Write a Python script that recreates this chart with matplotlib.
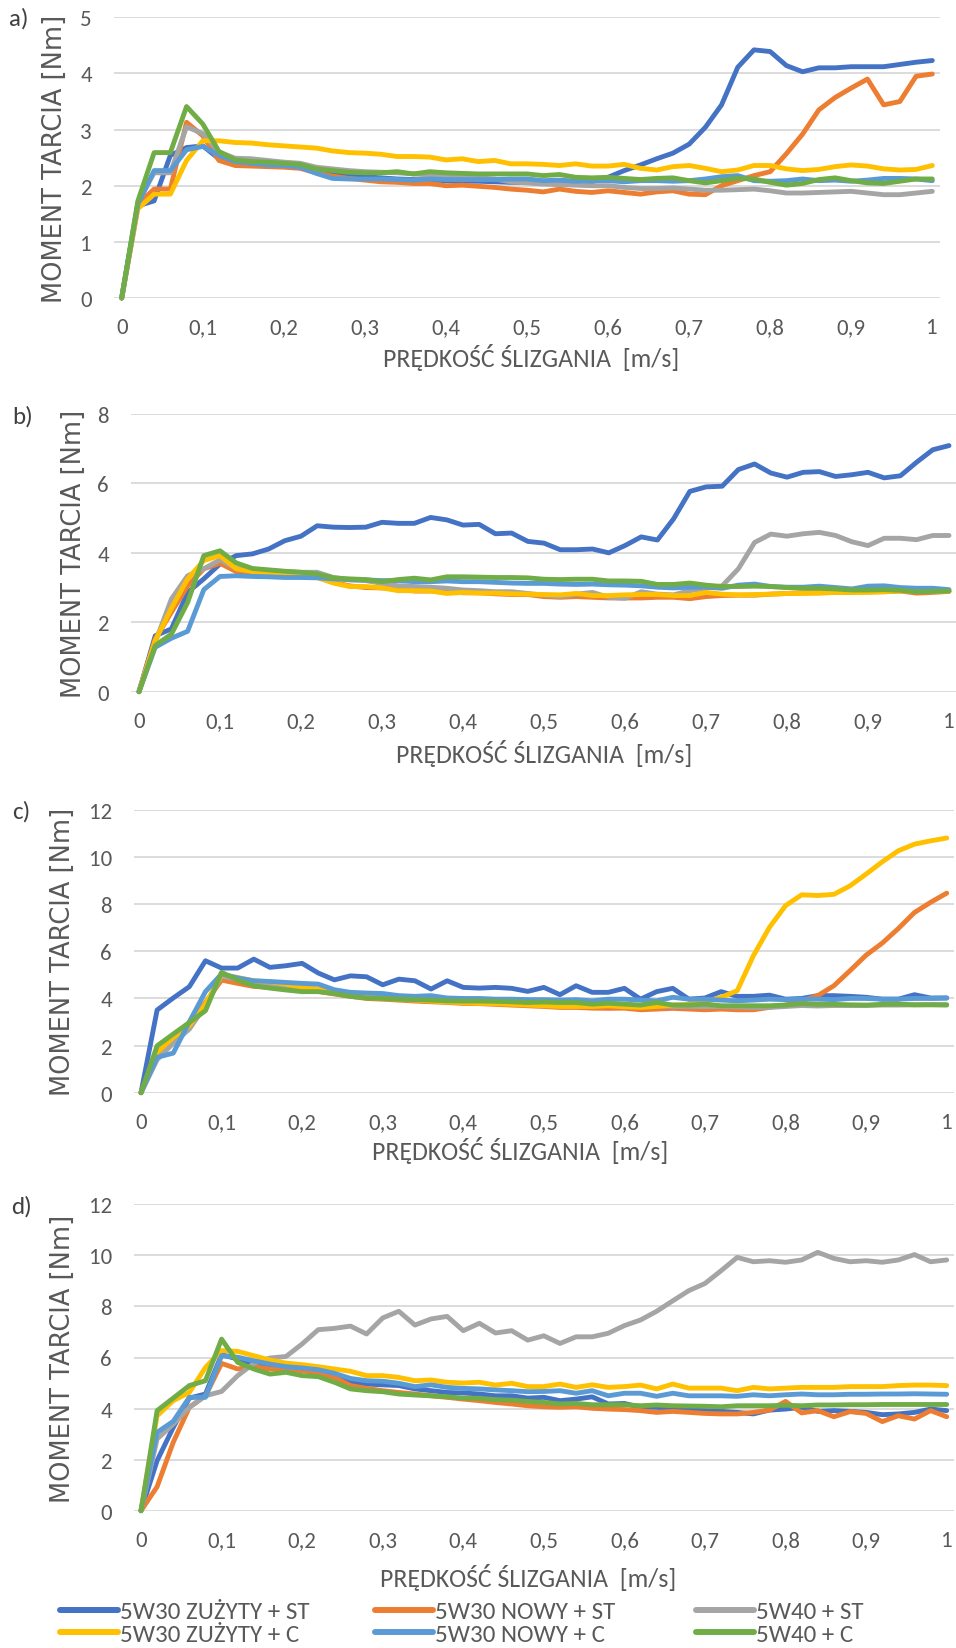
import matplotlib
matplotlib.use("Agg")
import matplotlib.pyplot as plt
from matplotlib.lines import Line2D

# sliding speed [m/s]
speed = [0.00, 0.02, 0.04, 0.06, 0.08, 0.10, 0.12, 0.14, 0.16, 0.18,
         0.20, 0.22, 0.24, 0.26, 0.28, 0.30, 0.32, 0.34, 0.36, 0.38,
         0.40, 0.42, 0.44, 0.46, 0.48, 0.50, 0.52, 0.54, 0.56, 0.58,
         0.60, 0.62, 0.64, 0.66, 0.68, 0.70, 0.72, 0.74, 0.76, 0.78,
         0.80, 0.82, 0.84, 0.86, 0.88, 0.90, 0.92, 0.94, 0.96, 0.98, 1.00]

series_labels = ["5W30 ZUŻYTY + ST", "5W30 NOWY + ST", "5W40 + ST",
                 "5W30 ZUŻYTY + C", "5W30 NOWY + C", "5W40 + C"]
series_colors = ["#4472C4", "#ED7D31", "#A5A5A5", "#FFC000", "#5B9BD5", "#70AD47"]

# ---- panel a) friction torque [Nm]
a_zuzyty_st = [0, 1.64, 1.73, 2.54, 2.68, 2.71, 2.48, 2.42, 2.40, 2.38, 2.37, 2.35, 2.28, 2.22, 2.18, 2.16, 2.14, 2.12, 2.11, 2.10, 2.09, 2.08, 2.08, 2.07, 2.06,
               2.06, 2.04, 2.04, 2.04, 2.07, 2.15, 2.27, 2.37, 2.48, 2.58, 2.74, 3.04, 3.44, 4.11, 4.42, 4.39, 4.14, 4.03, 4.10, 4.10, 4.12, 4.12, 4.12, 4.16, 4.20, 4.23]
a_nowy_st = [0, 1.67, 1.94, 1.94, 3.13, 2.89, 2.45, 2.36, 2.35, 2.34, 2.33, 2.31, 2.23, 2.17, 2.13, 2.10, 2.07, 2.06, 2.04, 2.04, 2.00, 2.01, 1.99, 1.97, 1.94,
             1.92, 1.89, 1.94, 1.90, 1.88, 1.91, 1.88, 1.85, 1.89, 1.91, 1.85, 1.84, 2.00, 2.09, 2.18, 2.25, 2.57, 2.92, 3.35, 3.57, 3.74, 3.90, 3.44, 3.50, 3.95, 3.99]
a_5w40_st = [0, 1.70, 2.23, 2.23, 3.05, 2.93, 2.60, 2.49, 2.48, 2.45, 2.42, 2.40, 2.33, 2.30, 2.27, 2.25, 2.24, 2.23, 2.21, 2.19, 2.18, 2.16, 2.14, 2.12, 2.07,
             2.05, 2.03, 2.02, 2.01, 2.00, 2.00, 1.97, 1.95, 1.95, 1.96, 1.94, 1.92, 1.92, 1.93, 1.94, 1.91, 1.87, 1.87, 1.88, 1.89, 1.90, 1.87, 1.84, 1.84, 1.87, 1.90]
a_zuzyty_c = [0, 1.59, 1.85, 1.85, 2.45, 2.80, 2.80, 2.77, 2.76, 2.73, 2.71, 2.69, 2.67, 2.62, 2.59, 2.58, 2.56, 2.52, 2.52, 2.51, 2.46, 2.48, 2.43, 2.45, 2.39,
              2.39, 2.38, 2.36, 2.39, 2.35, 2.35, 2.38, 2.31, 2.28, 2.34, 2.36, 2.31, 2.25, 2.28, 2.36, 2.36, 2.30, 2.27, 2.29, 2.34, 2.37, 2.35, 2.30, 2.28, 2.29, 2.36]
a_nowy_c = [0, 1.67, 2.27, 2.27, 2.64, 2.70, 2.54, 2.43, 2.40, 2.37, 2.36, 2.33, 2.22, 2.13, 2.12, 2.12, 2.12, 2.11, 2.10, 2.12, 2.11, 2.11, 2.11, 2.11, 2.12,
            2.12, 2.09, 2.10, 2.08, 2.09, 2.09, 2.07, 2.09, 2.09, 2.08, 2.09, 2.12, 2.16, 2.18, 2.09, 2.08, 2.09, 2.12, 2.09, 2.10, 2.08, 2.10, 2.13, 2.13, 2.12, 2.09]
a_5w40_c = [0, 1.73, 2.59, 2.59, 3.41, 3.10, 2.61, 2.46, 2.43, 2.42, 2.40, 2.38, 2.30, 2.27, 2.24, 2.23, 2.23, 2.25, 2.21, 2.25, 2.23, 2.22, 2.21, 2.21, 2.21,
            2.21, 2.18, 2.20, 2.15, 2.14, 2.15, 2.13, 2.11, 2.13, 2.14, 2.09, 2.05, 2.09, 2.13, 2.12, 2.06, 2.01, 2.04, 2.11, 2.14, 2.09, 2.05, 2.04, 2.08, 2.12, 2.12]

# ---- panel b)
b_zuzyty_st = [0, 1.61, 1.81, 2.86, 3.25, 3.68, 3.92, 3.97, 4.11, 4.35, 4.48, 4.78, 4.74, 4.73, 4.74, 4.88, 4.85, 4.85, 5.02, 4.95, 4.80, 4.82, 4.55, 4.57, 4.33,
               4.28, 4.09, 4.09, 4.11, 4.00, 4.21, 4.46, 4.37, 4.98, 5.77, 5.90, 5.92, 6.40, 6.56, 6.30, 6.18, 6.32, 6.34, 6.20, 6.25, 6.32, 6.16, 6.22, 6.61, 6.97, 7.09]
b_nowy_st = [0, 1.52, 2.29, 3.05, 3.54, 3.70, 3.46, 3.44, 3.40, 3.37, 3.35, 3.30, 3.15, 3.05, 3.00, 2.99, 2.96, 2.90, 2.90, 2.90, 2.85, 2.85, 2.82, 2.80, 2.80,
             2.74, 2.72, 2.74, 2.72, 2.70, 2.70, 2.70, 2.72, 2.72, 2.68, 2.74, 2.77, 2.78, 2.78, 2.81, 2.83, 2.85, 2.85, 2.86, 2.86, 2.88, 2.88, 2.90, 2.84, 2.86, 2.89]
b_5w40_st = [0, 1.42, 2.67, 3.34, 3.54, 3.80, 3.55, 3.52, 3.49, 3.46, 3.44, 3.44, 3.29, 3.22, 3.20, 3.12, 3.05, 3.03, 3.01, 2.98, 2.93, 2.91, 2.88, 2.88, 2.83,
             2.78, 2.74, 2.81, 2.86, 2.72, 2.69, 2.88, 2.81, 2.79, 2.91, 2.98, 3.05, 3.54, 4.30, 4.54, 4.48, 4.55, 4.59, 4.50, 4.32, 4.21, 4.42, 4.42, 4.38, 4.50, 4.50]
b_zuzyty_c = [0, 1.47, 2.40, 3.25, 3.78, 3.92, 3.54, 3.46, 3.42, 3.39, 3.36, 3.29, 3.13, 3.03, 3.03, 2.99, 2.91, 2.91, 2.90, 2.83, 2.86, 2.84, 2.84, 2.82, 2.81,
              2.80, 2.79, 2.83, 2.77, 2.77, 2.79, 2.80, 2.80, 2.77, 2.77, 2.86, 2.81, 2.79, 2.80, 2.81, 2.83, 2.83, 2.84, 2.86, 2.86, 2.86, 2.88, 2.90, 2.90, 2.89, 2.90]
b_nowy_c = [0, 1.28, 1.54, 1.74, 2.94, 3.32, 3.34, 3.32, 3.31, 3.29, 3.29, 3.28, 3.25, 3.23, 3.22, 3.20, 3.20, 3.17, 3.17, 3.19, 3.17, 3.17, 3.15, 3.13, 3.12,
            3.12, 3.10, 3.09, 3.10, 3.08, 3.07, 3.05, 3.01, 2.99, 3.01, 3.01, 2.98, 3.07, 3.10, 3.03, 3.01, 3.01, 3.04, 3.00, 2.96, 3.04, 3.05, 3.00, 2.98, 2.98, 2.94]
b_5w40_c = [0, 1.33, 1.66, 2.57, 3.92, 4.06, 3.71, 3.55, 3.51, 3.47, 3.44, 3.39, 3.28, 3.25, 3.23, 3.17, 3.23, 3.27, 3.22, 3.31, 3.31, 3.30, 3.29, 3.29, 3.28,
            3.24, 3.23, 3.24, 3.24, 3.19, 3.19, 3.18, 3.09, 3.09, 3.13, 3.07, 3.03, 3.03, 3.04, 3.03, 3.00, 2.98, 2.98, 2.96, 2.93, 2.93, 2.94, 2.92, 2.88, 2.89, 2.90]

# ---- panel c)
c_zuzyty_st = [0, 3.51, 4.02, 4.50, 5.60, 5.29, 5.29, 5.67, 5.32, 5.39, 5.49, 5.08, 4.79, 4.96, 4.92, 4.58, 4.82, 4.75, 4.40, 4.75, 4.47, 4.44, 4.47, 4.43, 4.30,
               4.47, 4.16, 4.54, 4.26, 4.26, 4.43, 3.97, 4.29, 4.43, 3.97, 4.02, 4.29, 4.09, 4.09, 4.14, 3.97, 4.00, 4.12, 4.12, 4.09, 4.05, 3.97, 3.97, 4.16, 4.02, 4.02]
c_nowy_st = [0, 1.57, 2.28, 2.84, 3.83, 4.78, 4.64, 4.51, 4.47, 4.40, 4.33, 4.30, 4.19, 4.09, 4.00, 3.97, 3.93, 3.89, 3.86, 3.83, 3.79, 3.78, 3.75, 3.72, 3.69,
             3.66, 3.62, 3.62, 3.59, 3.58, 3.59, 3.52, 3.55, 3.58, 3.55, 3.52, 3.55, 3.52, 3.52, 3.62, 3.72, 3.90, 4.12, 4.54, 5.18, 5.84, 6.35, 6.97, 7.65, 8.08, 8.47]
c_5w40_st = [0, 1.40, 2.10, 2.70, 3.70, 4.95, 4.80, 4.70, 4.65, 4.55, 4.45, 4.40, 4.30, 4.20, 4.15, 4.10, 4.00, 3.97, 3.93, 3.90, 3.87, 3.85, 3.82, 3.80, 3.77,
             3.75, 3.72, 3.72, 3.70, 3.70, 3.68, 3.66, 3.68, 3.66, 3.66, 3.65, 3.66, 3.64, 3.62, 3.62, 3.66, 3.70, 3.68, 3.70, 3.70, 3.70, 3.72, 3.72, 3.73, 3.74, 3.74]
c_zuzyty_c = [0, 1.71, 2.35, 2.84, 3.76, 5.01, 4.89, 4.75, 4.71, 4.61, 4.47, 4.40, 4.26, 4.12, 4.05, 4.00, 3.97, 3.93, 3.89, 3.85, 3.82, 3.79, 3.78, 3.75, 3.72,
              3.69, 3.66, 3.66, 3.66, 3.69, 3.65, 3.62, 3.66, 3.72, 3.75, 3.86, 4.05, 4.33, 5.81, 7.02, 7.94, 8.40, 8.37, 8.42, 8.78, 9.28, 9.80, 10.27, 10.55, 10.69, 10.81]
c_nowy_c = [0, 1.50, 1.68, 3.01, 4.29, 5.04, 4.87, 4.75, 4.72, 4.68, 4.64, 4.61, 4.37, 4.26, 4.23, 4.21, 4.12, 4.09, 4.12, 4.02, 4.00, 4.00, 3.97, 3.97, 3.95,
            3.95, 3.93, 3.95, 3.90, 3.97, 3.97, 3.93, 3.90, 4.05, 3.97, 3.97, 3.93, 3.90, 3.93, 3.97, 3.95, 3.97, 3.97, 3.95, 4.00, 4.00, 3.97, 3.97, 4.00, 4.00, 4.02]
c_5w40_c = [0, 1.99, 2.49, 2.98, 3.48, 5.11, 4.78, 4.54, 4.44, 4.36, 4.29, 4.29, 4.21, 4.09, 4.02, 4.00, 3.97, 3.95, 3.93, 3.90, 3.89, 3.89, 3.88, 3.86, 3.83,
            3.85, 3.83, 3.83, 3.76, 3.80, 3.76, 3.72, 3.83, 3.72, 3.72, 3.76, 3.69, 3.69, 3.69, 3.69, 3.72, 3.78, 3.75, 3.75, 3.73, 3.72, 3.75, 3.76, 3.73, 3.73, 3.72]

# ---- panel d)
d_zuzyty_st = [0, 1.96, 3.26, 4.41, 4.57, 6.11, 5.94, 5.74, 5.68, 5.61, 5.55, 5.48, 5.29, 5.03, 4.96, 4.93, 4.90, 4.77, 4.70, 4.63, 4.61, 4.57, 4.50, 4.50, 4.41,
               4.44, 4.31, 4.37, 4.46, 4.18, 4.20, 4.05, 4.05, 3.98, 3.94, 3.92, 3.89, 3.85, 3.79, 3.94, 3.98, 4.05, 3.89, 3.92, 3.89, 3.85, 3.76, 3.79, 3.85, 3.98, 3.92]
d_nowy_st = [0, 0.94, 2.68, 4.05, 4.50, 5.77, 5.55, 5.64, 5.55, 5.55, 5.48, 5.39, 5.22, 4.90, 4.79, 4.70, 4.63, 4.57, 4.50, 4.44, 4.37, 4.31, 4.24, 4.18, 4.11,
             4.07, 4.05, 4.07, 4.01, 3.98, 3.96, 3.92, 3.85, 3.89, 3.85, 3.81, 3.79, 3.79, 3.85, 3.94, 4.28, 3.83, 3.92, 3.68, 3.88, 3.81, 3.49, 3.72, 3.59, 3.92, 3.68]
d_5w40_st = [0, 2.81, 3.39, 4.05, 4.50, 4.67, 5.29, 5.77, 5.98, 6.04, 6.53, 7.09, 7.14, 7.23, 6.92, 7.55, 7.81, 7.27, 7.51, 7.61, 7.05, 7.34, 6.96, 7.05, 6.68,
             6.85, 6.55, 6.81, 6.81, 6.95, 7.25, 7.47, 7.81, 8.22, 8.62, 8.90, 9.40, 9.92, 9.75, 9.79, 9.73, 9.82, 10.12, 9.88, 9.75, 9.79, 9.73, 9.82, 10.03, 9.75, 9.82]
d_zuzyty_c = [0, 3.72, 4.31, 4.63, 5.61, 6.27, 6.24, 6.07, 5.90, 5.78, 5.72, 5.64, 5.55, 5.46, 5.29, 5.29, 5.22, 5.09, 5.12, 5.03, 5.00, 5.03, 4.92, 4.99, 4.86,
              4.86, 4.96, 4.83, 4.93, 4.83, 4.86, 4.92, 4.77, 4.96, 4.80, 4.80, 4.80, 4.70, 4.83, 4.77, 4.80, 4.83, 4.83, 4.83, 4.86, 4.86, 4.86, 4.90, 4.92, 4.92, 4.90]
d_nowy_c = [0, 3.07, 3.50, 4.44, 4.44, 6.07, 6.01, 5.87, 5.74, 5.64, 5.59, 5.52, 5.38, 5.18, 5.09, 5.07, 4.99, 4.86, 4.93, 4.83, 4.79, 4.77, 4.73, 4.70, 4.66,
            4.67, 4.70, 4.60, 4.70, 4.50, 4.60, 4.60, 4.48, 4.60, 4.50, 4.50, 4.50, 4.48, 4.54, 4.50, 4.54, 4.57, 4.54, 4.54, 4.56, 4.56, 4.57, 4.57, 4.58, 4.57, 4.56]
d_5w40_c = [0, 3.92, 4.41, 4.90, 5.09, 6.72, 5.81, 5.55, 5.35, 5.42, 5.29, 5.25, 5.03, 4.77, 4.70, 4.66, 4.57, 4.53, 4.50, 4.46, 4.41, 4.40, 4.35, 4.33, 4.28,
            4.24, 4.18, 4.20, 4.15, 4.15, 4.15, 4.11, 4.14, 4.11, 4.10, 4.09, 4.07, 4.11, 4.11, 4.11, 4.13, 4.11, 4.14, 4.14, 4.15, 4.15, 4.16, 4.16, 4.16, 4.16, 4.16]

x_ticks = [0.0, 0.1, 0.2, 0.3, 0.4, 0.5, 0.6, 0.7, 0.8, 0.9, 1.0]
x_tick_labels = ["0", "0,1", "0,2", "0,3", "0,4", "0,5", "0,6", "0,7", "0,8", "0,9", "1"]
panel_letters = ["a)", "b)", "c)", "d)"]
y_maxima = [5, 8, 12, 12]
y_steps = [1, 2, 2, 2]
x_title = "PRĘDKOŚĆ ŚLIZGANIA  [m/s]"
y_title = "MOMENT TARCIA [Nm]"

panels = [
    [a_zuzyty_st, a_nowy_st, a_5w40_st, a_zuzyty_c, a_nowy_c, a_5w40_c],
    [b_zuzyty_st, b_nowy_st, b_5w40_st, b_zuzyty_c, b_nowy_c, b_5w40_c],
    [c_zuzyty_st, c_nowy_st, c_5w40_st, c_zuzyty_c, c_nowy_c, c_5w40_c],
    [d_zuzyty_st, d_nowy_st, d_5w40_st, d_zuzyty_c, d_nowy_c, d_5w40_c],
]

# ---- layout (pixels)
W, H = 956, 1649
# grid left, grid right, top gridline, bottom gridline, x=0 pixel, x=1 pixel
frames = [
    (114, 940, 18.3, 299.0, 121.7, 932.3),
    (131, 956, 415.0, 692.7, 139.0, 949.0),
    (134, 954, 811.0, 1093.7, 141.0, 946.7),
    (134, 954, 1205.3, 1511.7, 141.0, 946.7),
]
xtitle_y = [357.6, 754.0, 1150.6, 1577.6]
xtitle_x = [531, 544, 520, 528]
ytitle_x = [55, 74, 63, 63]
letter_pos = [(19, 19), (23, 417), (21, 812), (21, 1207)]

NARROW = ["Carlito", "Roboto", "DejaVu Sans"]
TXT = "#595959"
GRID = "#D9D9D9"
LW = 3.5

fig = plt.figure(figsize=(W / 100, H / 100), dpi=100)

for k, (series, fr) in enumerate(zip(panels, frames)):
    gl, gr, gt, gb, px0, px1 = fr
    ax = fig.add_axes([gl / W, 1 - gb / H, (gr - gl) / W, (gb - gt) / H])
    span = px1 - px0
    ax.set_xlim((gl - px0) / span, (gr - px0) / span)
    ax.set_ylim(0, y_maxima[k])
    yt = list(range(0, y_maxima[k] + 1, y_steps[k]))
    ax.set_yticks(yt)
    ax.set_yticklabels([str(v) for v in yt])
    ax.set_xticks(x_ticks)
    ax.set_xticklabels(x_tick_labels)
    for s in ax.spines.values():
        s.set_visible(False)
    ax.grid(axis="y", color=GRID, linewidth=1.3)
    ax.set_axisbelow(True)
    ax.tick_params(axis="both", length=0, labelcolor=TXT, labelsize=16.5)
    ax.tick_params(axis="y", pad=16)
    ax.tick_params(axis="x", pad=14)
    for lab in ax.get_xticklabels() + ax.get_yticklabels():
        lab.set_family(NARROW)
    for vals, col in zip(series, series_colors):
        ax.plot(speed, vals, color=col, linewidth=LW, clip_on=False,
                solid_joinstyle="round", solid_capstyle="round", zorder=3)

    fig.text(xtitle_x[k] / W, 1 - xtitle_y[k] / H, x_title, ha="center", va="center",
             fontsize=18.5, color=TXT, family=NARROW)
    fig.text(ytitle_x[k] / W, 1 - (gt + gb) / 2 / H, y_title, ha="center", va="center",
             rotation=90, fontsize=18.5, color=TXT, family=["DejaVu Sans"])
    lx, ly = letter_pos[k]
    fig.text(lx / W, 1 - ly / H, panel_letters[k], ha="center", va="center",
             fontsize=18, color="#404040", family=NARROW)

# legend: three columns (ST above C)
col_x = [60, 375, 696]
for c in range(3):
    handles = [Line2D([], [], color=series_colors[c], linewidth=LW + 0.8, solid_capstyle="round"),
               Line2D([], [], color=series_colors[c + 3], linewidth=LW + 0.8, solid_capstyle="round")]
    labels = [series_labels[c], series_labels[c + 3]]
    leg = fig.legend(handles, labels, loc="center left",
                     bbox_to_anchor=(col_x[c] / W, 1 - 1624 / H),
                     frameon=False, handlelength=2.3,
                     handletextpad=0.1, labelspacing=0.05, borderpad=0,
                     borderaxespad=0, prop={"family": NARROW, "size": 18})
    for t in leg.get_texts():
        t.set_color(TXT)

fig.savefig("out.png", dpi=100)
